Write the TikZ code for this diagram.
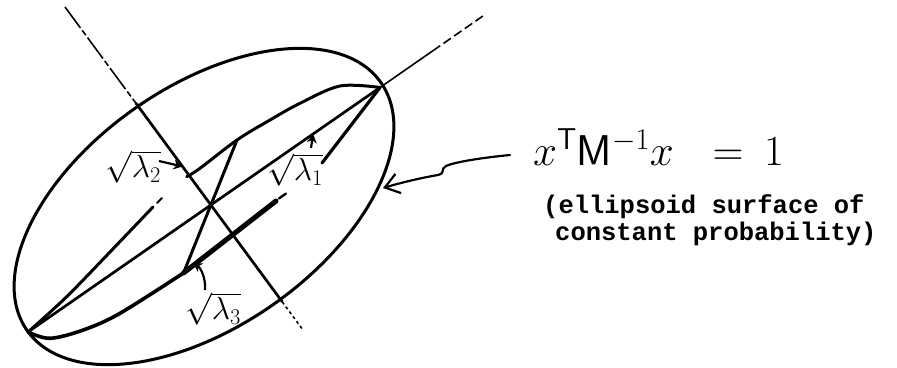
\documentclass[tikz,border=0pt]{standalone}
\usepackage{fix-cm}
\usepackage{fontspec}
\setmonofont{Liberation Mono}
\usetikzlibrary{arrows.meta,calc}
\begin{document}
\begin{tikzpicture}[x=1pt,y=-1pt,
  outer/.style={line width=3pt},
  axisline/.style={line width=2.7pt},
  thinaxis/.style={line width=1.6pt},
  innerarc/.style={line width=3pt, line cap=round, line join=round},
  heavy/.style={line width=5pt, line cap=round},
  lbl/.style={inner sep=0pt, font=\fontsize{32}{34}\selectfont},
  mono/.style={inner sep=0pt, anchor=base west, font=\fontsize{25.5}{27}\selectfont\ttfamily\bfseries},
  formula/.style={inner sep=0pt, font=\fontsize{43}{45}\selectfont},
  leader/.style={line width=2.2pt, -{Stealth[length=9pt,width=10pt]}}
]
\useasboundingbox (0,0) rectangle (897,367);

% outer ellipse
\coordinate (C) at (204,206.5);
\draw[outer, rotate around={35:(C)}] (C) ellipse [x radius=216, y radius=120];

% key points
\coordinate (V1) at (28,332);
\coordinate (V2) at (380,87.5);
\coordinate (E1) at ($(V1)!1.3!(V2)$);
\coordinate (Em) at ($(V1)!1.15!(V2)$);
\coordinate (M1) at (65,7);
\coordinate (M2) at (303,330);
\coordinate (Mt) at ($(M1)!0.297!(M2)$);
\coordinate (Mb) at ($(M1)!0.913!(M2)$);
\coordinate (L3a) at (237,140);
\coordinate (L3b) at (183.5,273);

% major axis
\draw[axisline] (V1) -- (V2);
\draw[thinaxis] (V2) -- (Em);
\draw[thinaxis, dash pattern=on 9pt off 4pt] (Em) -- (E1);

% minor axis
\draw[axisline] (Mt) -- (Mb);
\draw[thinaxis, dash pattern=on 26pt off 3pt on 6pt off 3pt] (M1) -- (Mt);
\draw[thinaxis, dash pattern=on 3pt off 3pt] (Mb) -- (M2);

% lambda3 axis
\draw[innerarc] (L3a) -- (L3b);

% upper inner arc
\draw[innerarc] plot[smooth, tension=0.55] coordinates {(V1) (66.7,296.7) (110,252) (153,207)};
\draw[innerarc, line width=1.8pt] (157,203) -- (162,198);
\draw[innerarc] plot[smooth, tension=0.55] coordinates {(186.7,176.7) (200,168.3) (L3a) (270,120) (300,103.3) (340,86) (V2)};

% lower inner arc
\draw[innerarc, line width=3.6pt] plot[smooth, tension=0.55] coordinates {(V1) (50,338.3) (83.3,330) (120,313.3) (L3b)};
\draw[heavy] (L3b) -- (276,201);
\draw[innerarc, line width=2.4pt] (279,198.5) -- (286,193.5);
\coordinate (H1) at (322,163);
\draw[innerarc, line width=3.2pt] (H1) -- (V2);

% labels
\node[lbl] (s2) at (133,167) {$\sqrt{\lambda_2}$};
\coordinate (s2t) at ($(M1)!0.494!(M2)$);
\draw[leader] (159,161) -- (s2t);

\node[lbl] (s1) at (295,170) {$\sqrt{\lambda_1}$};
\coordinate (s1t) at ($(V1)!0.81!(V2)$);
\draw[leader] (311,148) -- (s1t);

\node[lbl] (s3) at (213,309) {$\sqrt{\lambda_3}$};
\coordinate (s3t) at (193,263);
\draw[leader] (205,290) .. controls (206,279) and (201,268) .. (s3t);

% formula and pointer
\node[formula, anchor=base west] (lhs) at (533,165) {$x^{\mathsf{T}}\mathsf{M}^{-1}x$};
\node[formula, anchor=base] (eqs) at (728,165) {$=$};
\node[formula, anchor=base west] (one) at (764,165) {$1$};
\coordinate (ws) at (510,155);
\coordinate (ell) at (383,188);
\draw[line width=2.2pt, line cap=round, -{Straight Barb[length=14pt,width=20pt]}]
  (ws) .. controls (480,158) and (455,162) .. (446,166)
       .. controls (440,169) and (446,173) .. (438,175)
       .. controls (420,178) and (400,183) .. (ell);

\node[mono] (t1) at (543,213) {(ellipsoid surface of};
\node[mono] (t2) at (555,240) {constant probability)};
\end{tikzpicture}
\end{document}
